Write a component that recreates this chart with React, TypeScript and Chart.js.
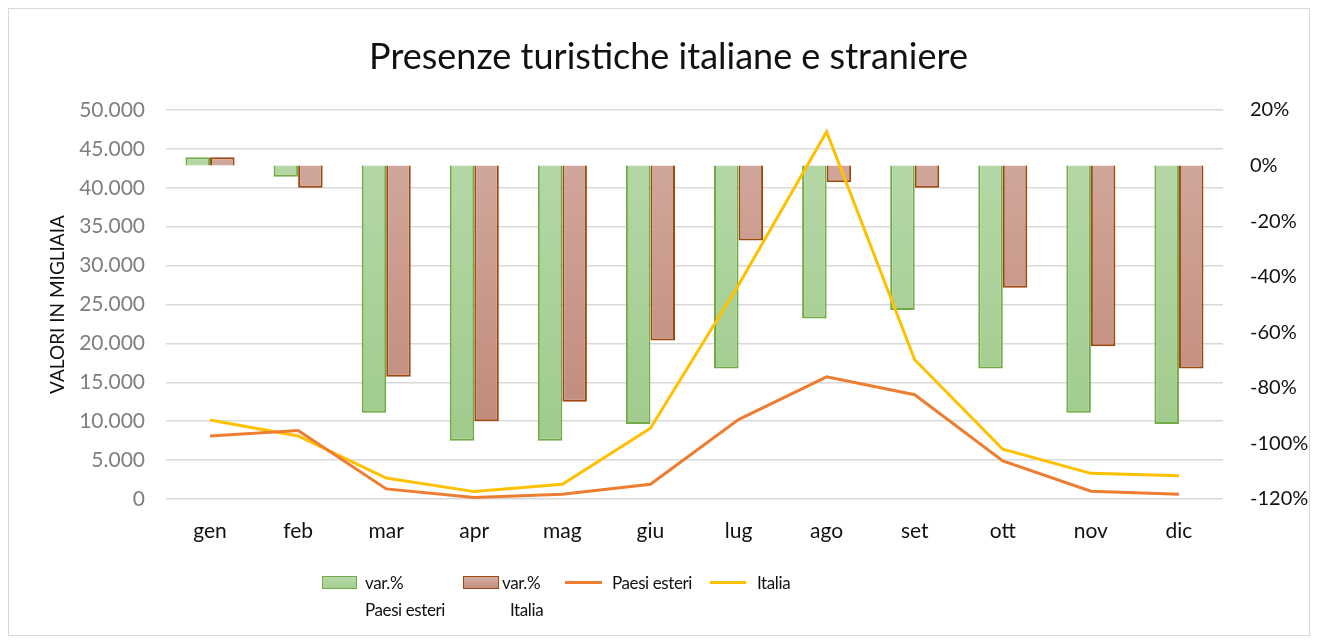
import React, { useEffect, useRef } from "react";
import { Chart, registerables } from "chart.js";

Chart.register(...registerables);

const months = ["gen", "feb", "mar", "apr", "mag", "giu", "lug", "ago", "set", "ott", "nov", "dic"];
const varPaesiEsteri = [3, -4, -89, -99, -99, -93, -73, -55, -52, -73, -89, -93];
const varItalia = [3, -8, -76, -92, -85, -63, -27, -6, -8, -44, -65, -73];
const paesiEsteri = [8100, 8800, 1300, 200, 600, 1900, 10200, 15700, 13400, 4900, 1000, 600];
const italia = [10150, 8100, 2700, 950, 1900, 9100, 27500, 47200, 17900, 6400, 3300, 3000];
const leftTicks = { min: 0, max: 50000, step: 5000 };
const rightTicks = { min: -120, max: 20, step: 20 };
const yAxisTitle = "VALORI IN MIGLIAIA";

const FONT = "Lato, 'Open Sans', sans-serif";

function fmtThousands(v: number): string {
  return String(Math.round(v)).replace(/\B(?=(\d{3})+(?!\d))/g, ".");
}

function makeGradient(chart: any, top: string, bottom: string, fallback: string) {
  const area = chart.chartArea;
  if (!area) return fallback;
  const g = chart.ctx.createLinearGradient(0, area.top, 0, area.bottom);
  g.addColorStop(0, top);
  g.addColorStop(1, bottom);
  return g;
}

const yTitlePlugin = {
  id: "yTitlePlugin",
  afterDraw(chart: any) {
    const { ctx, chartArea } = chart;
    ctx.save();
    ctx.setTransform(1, 0, 0, 1, 0, 0);
    ctx.translate(49, (chartArea.top + chartArea.bottom) / 2);
    ctx.rotate(-Math.PI / 2);
    ctx.textAlign = "center";
    ctx.textBaseline = "middle";
    ctx.fillStyle = "#111111";
    ctx.font = `19px ${FONT}`;
    ctx.fillText(yAxisTitle, 0, 0);
    ctx.restore();
  },
};

export default function App() {
  const canvasRef = useRef<HTMLCanvasElement | null>(null);

  useEffect(() => {
    if (!canvasRef.current) return;
    const chart = new Chart(canvasRef.current, {
      type: "bar",
      data: {
        labels: months,
        datasets: [
          {
            type: "bar",
            label: "var.% Paesi esteri",
            data: varPaesiEsteri,
            yAxisID: "y1",
            order: 2,
            backgroundColor: (ctx: any) => makeGradient(ctx.chart, "#b9d9ab", "#9cc987", "#a9d18e"),
            borderColor: "#70ad47",
            borderWidth: 2,
            categoryPercentage: 0.557,
            barPercentage: 1,
          },
          {
            type: "bar",
            label: "var.% Italia",
            data: varItalia,
            yAxisID: "y1",
            order: 2,
            backgroundColor: (ctx: any) => makeGradient(ctx.chart, "#d4aca1", "#bd8373", "#c9988a"),
            borderColor: "#9e480e",
            borderWidth: 2,
            categoryPercentage: 0.557,
            barPercentage: 1,
          },
          {
            type: "line",
            label: "Paesi esteri",
            data: paesiEsteri,
            yAxisID: "y",
            order: 0,
            borderColor: "#ed7d31",
            backgroundColor: "#ed7d31",
            borderWidth: 3,
            pointRadius: 0,
            tension: 0,
          },
          {
            type: "line",
            label: "Italia",
            data: italia,
            yAxisID: "y",
            order: 0,
            borderColor: "#ffc000",
            backgroundColor: "#ffc000",
            borderWidth: 3,
            pointRadius: 0,
            tension: 0,
          },
        ],
      } as any,
      options: {
        animation: false,
        responsive: false,
        maintainAspectRatio: false,
        layout: { padding: { left: 19, right: 0, top: 0, bottom: 86 } },
        plugins: {
          legend: { display: false },
          tooltip: { enabled: false },
          title: {
            display: true,
            text: "Presenze turistiche italiane e straniere",
            color: "#111111",
            font: { family: FONT, size: 36, weight: "normal" as any, lineHeight: 1.2 },
            padding: { top: 27, bottom: 30.8 },
          },
        },
        scales: {
          x: {
            grid: { display: false },
            border: { display: false },
            ticks: {
              color: "#111111",
              padding: 12,
              font: { family: FONT, size: 21 },
            },
            afterFit: (s: any) => {
              s.height = 50;
            },
          },
          y: {
            position: "left",
            min: leftTicks.min,
            max: leftTicks.max,
            grid: { color: "#d9d9d9", lineWidth: 1.5, drawTicks: false },
            border: { display: false },
            ticks: {
              stepSize: leftTicks.step,
              color: "#7f7f7f",
              padding: 21,
              font: { family: FONT, size: 21 },
              callback: (v: any) => fmtThousands(Number(v)),
            },
            afterFit: (s: any) => {
              s.width = 138;
            },
          },
          y1: {
            position: "right",
            min: rightTicks.min,
            max: rightTicks.max,
            grid: { display: false, drawTicks: false },
            border: { display: false },
            ticks: {
              stepSize: rightTicks.step,
              color: "#111111",
              padding: 27,
              crossAlign: "near",
              font: { family: FONT, size: 20 },
              callback: (v: any) => `${v}%`,
            },
            afterFit: (s: any) => {
              s.width = 86;
            },
          },
        },
      } as any,
      plugins: [yTitlePlugin],
    });
    return () => chart.destroy();
  }, []);

  const txt: React.CSSProperties = {
    position: "absolute",
    fontFamily: FONT,
    fontSize: 17,
    letterSpacing: "-0.4px",
    lineHeight: "27px",
    color: "#111111",
    whiteSpace: "pre",
  };

  return (
    <div
      style={{
        position: "relative",
        width: 1302,
        height: 628,
        border: "1px solid #d9d9d9",
        boxSizing: "border-box",
        background: "#ffffff",
      }}
    >
      <canvas ref={canvasRef} width={1300} height={626} style={{ display: "block", width: 1300, height: 626 }} />
      <div
        style={{
          position: "absolute",
          left: 313,
          top: 567,
          width: 33,
          height: 11,
          border: "1.5px solid #70ad47",
          background: "linear-gradient(#b9d9ab, #a5ce92)",
        }}
      />
      <div style={{ ...txt, left: 356, top: 560 }}>{"var.%\nPaesi esteri"}</div>
      <div
        style={{
          position: "absolute",
          left: 454,
          top: 567,
          width: 34,
          height: 11,
          border: "1.5px solid #9e480e",
          background: "linear-gradient(#d4aca1, #c49080)",
        }}
      />
      <div style={{ ...txt, left: 493, top: 560 }}>{"var.%"}</div>
      <div style={{ ...txt, left: 501, top: 587 }}>{"Italia"}</div>
      <div style={{ position: "absolute", left: 556, top: 572, width: 37, height: 3, background: "#ed7d31" }} />
      <div style={{ ...txt, left: 603, top: 560 }}>{"Paesi esteri"}</div>
      <div style={{ position: "absolute", left: 701, top: 572, width: 36, height: 3, background: "#ffc000" }} />
      <div style={{ ...txt, left: 748, top: 560 }}>{"Italia"}</div>
    </div>
  );
}
